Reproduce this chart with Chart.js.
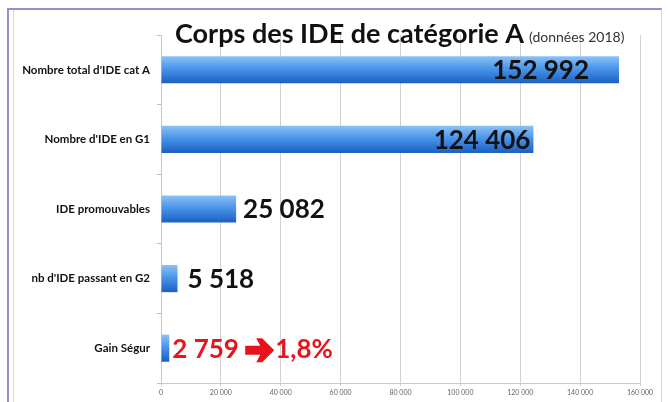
<!DOCTYPE html>
<html>
<head>
<meta charset="utf-8">
<script src="https://cdn.jsdelivr.net/npm/chart.js@4"></script>
<style>
  html, body { margin: 0; padding: 0; background: #fff; }
  #cadre { position: absolute; left: 7px; top: 8px; width: 652px; height: 400px;
           border-top: 2px solid #9391c8; border-left: 2px solid #9391c8; border-right: 1px solid #d6d6d6; }
  #cadreInt { position: absolute; left: 13px; top: 10px; width: 0; height: 392px; border-left: 1px solid #d8d8d8; }
  #zone { position: absolute; left: 0; top: 0; width: 668px; height: 402px; }
</style>
</head>
<body>
<div id="cadre"></div>
<div id="cadreInt"></div>
<div id="zone"><canvas id="chartIDE" width="668" height="402"></canvas></div>
<script>
// Données (2018)
const categories = ["Nombre total d'IDE cat A", "Nombre d'IDE en G1", "IDE promouvables", "nb d'IDE passant en G2", "Gain Ségur"];
const effectifs = [152992, 124406, 25082, 5518, 2759];
const complements = ['', '', '', '', '1,8%'];
const couleursEtiquettes = ['#111', '#111', '#111', '#111', '#e8141b'];
const ticksX = [0, 20000, 40000, 60000, 80000, 100000, 120000, 140000, 160000];

const police = "Lato, 'Open Sans', sans-serif";

function formatNombre(v) {
    return String(v).replace(/\B(?=(\d{3})+(?!\d))/g, ' ');
}

// Titre avec sous-titre plus petit
const pluginTitre = {
    id: 'titre',
    afterDraw(chart) {
        const ctx = chart.ctx;
        ctx.save();
        ctx.textBaseline = 'alphabetic';
        ctx.fillStyle = '#111';
        ctx.font = 'bold 27px ' + police;
        const principal = 'Corps des IDE de catégorie A';
        ctx.fillText(principal, 175, 43);
        const w = ctx.measureText(principal).width;
        ctx.font = '14px ' + police;
        ctx.fillStyle = '#333';
        ctx.fillText('(données 2018)', 175 + w + 5, 42);
        ctx.restore();
    }
};

// flèche épaisse (comme ➔)
function fleche(ctx, x, y) {
    ctx.beginPath();
    ctx.moveTo(x, y - 4.5);
    ctx.lineTo(x + 15, y - 4.5);
    ctx.lineTo(x + 11, y - 12);
    ctx.lineTo(x + 17, y - 12);
    ctx.lineTo(x + 29, y);
    ctx.lineTo(x + 17, y + 12);
    ctx.lineTo(x + 11, y + 12);
    ctx.lineTo(x + 15, y + 4.5);
    ctx.lineTo(x, y + 4.5);
    ctx.closePath();
    ctx.fill();
}

// Dégradé bleu des barres + étiquettes de valeur
const decalages = [-30, -3, 7, 10, 3];
const pluginBarres = {
    id: 'barres',
    beforeDatasetsDraw(chart) {
        const ctx = chart.ctx;
        chart.getDatasetMeta(0).data.forEach(bar => {
            const h = bar.height;
            const g = ctx.createLinearGradient(0, bar.y - h / 2, 0, bar.y + h / 2);
            g.addColorStop(0, '#8cc2f6');
            g.addColorStop(0.45, '#4a95ea');
            g.addColorStop(1, '#1b5fc2');
            bar.options = Object.assign({}, bar.options, { backgroundColor: g });
        });
    },
    afterDatasetsDraw(chart) {
        const ctx = chart.ctx;
        ctx.save();
        ctx.textBaseline = 'middle';
        chart.getDatasetMeta(0).data.forEach((bar, i) => {
            let x = bar.x + decalages[i];
            const nombre = formatNombre(effectifs[i]);
            ctx.font = 'bold 26px ' + police;
            ctx.fillStyle = couleursEtiquettes[i];
            if (decalages[i] < 0) {
                ctx.textAlign = 'right';
                ctx.fillText(nombre, x, bar.y + 1);
            } else {
                ctx.textAlign = 'left';
                ctx.fillText(nombre, x, bar.y + 1);
                if (complements[i]) {
                    x += ctx.measureText(nombre + ' ').width;
                    fleche(ctx, x, bar.y + 2);
                    ctx.fillText(complements[i], x + 30, bar.y + 1);
                }
            }
        });
        ctx.restore();
    }
};

new Chart(document.getElementById('chartIDE').getContext('2d'), {
    type: 'bar',
    data: {
        labels: categories,
        datasets: [{
            data: effectifs,
            backgroundColor: c => '#3b8be6',
            borderWidth: 0,
            categoryPercentage: 1,
            barPercentage: 0.39
        }]
    },
    options: {
        indexAxis: 'y',
        responsive: false,
        animation: false,
        layout: { padding: { left: 0, right: 28, top: 35, bottom: 0 } },
        plugins: {
            legend: { display: false },
            tooltip: { enabled: false }
        },
        scales: {
            x: {
                min: 0,
                max: 160000,
                afterBuildTicks: axe => { axe.ticks = ticksX.map(v => ({ value: v })); },
                afterFit: axe => { axe.height = 19; },
                grid: { color: '#d2d2d2', tickLength: 3 },
                border: { color: '#c8c8c8' },
                ticks: {
                    maxRotation: 0,
                    padding: 3,
                    color: '#666',
                    font: { family: police, size: 7 },
                    callback: v => formatNombre(v)
                }
            },
            y: {
                afterFit: axe => { axe.width = 161; },
                grid: { drawOnChartArea: false, tickLength: 4, color: '#bdbdbd' },
                border: { color: '#c8c8c8' },
                ticks: {
                    padding: 7,
                    color: '#111',
                    font: { family: police, size: 11.5, weight: 'bold' }
                }
            }
        }
    },
    plugins: [pluginTitre, pluginBarres]
});
</script>
</body>
</html>
